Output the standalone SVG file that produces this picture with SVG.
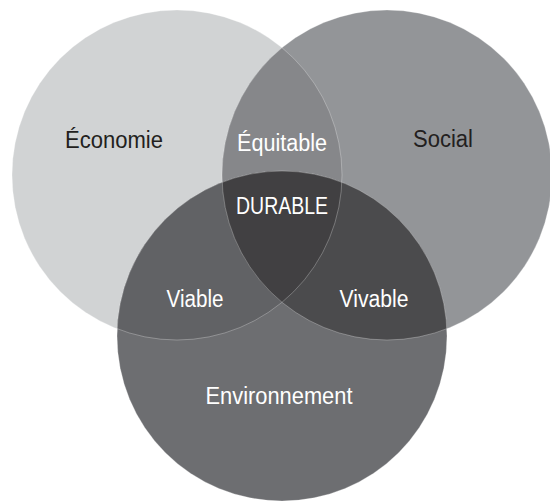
<svg xmlns="http://www.w3.org/2000/svg" width="550" height="501" viewBox="0 0 550 501">
<style>
text{font-family:"Liberation Sans",Arial,sans-serif;font-size:23px;text-anchor:middle}
.dk{fill:#231f20}
.lt{fill:#ffffff}
.edge{fill:none;stroke:#ffffff;stroke-opacity:0.35;stroke-width:0.8}
</style>
<defs>
<clipPath id="c1"><circle cx="177" cy="175" r="165"/></clipPath>
<clipPath id="c2"><circle cx="387" cy="175" r="165"/></clipPath>
</defs>
<rect width="550" height="501" fill="#ffffff"/>
<g id="node-economie">
<circle cx="177" cy="175" r="165" fill="#d1d3d4"/>
</g>
<g id="node-social">
<circle cx="387" cy="175" r="165" fill="#939598"/>
</g>
<g id="node-environnement">
<circle cx="282" cy="336" r="165" fill="#6d6e71"/>
</g>
<g id="node-equitable">
<circle cx="387" cy="175" r="165" fill="#86878a" clip-path="url(#c1)"/>
</g>
<g id="node-viable">
<circle cx="282" cy="336" r="165" fill="#616265" clip-path="url(#c1)"/>
</g>
<g id="node-vivable">
<circle cx="282" cy="336" r="165" fill="#4b4b4d" clip-path="url(#c2)"/>
</g>
<g id="node-durable">
<g clip-path="url(#c2)"><circle cx="282" cy="336" r="165" fill="#414042" clip-path="url(#c1)"/></g>
</g>
<g id="edges">
<circle class="edge" cx="177" cy="175" r="165"/>
<circle class="edge" cx="387" cy="175" r="165"/>
<circle class="edge" cx="282" cy="336" r="165"/>
</g>
<g id="labels">
<text class="dk" x="114" y="148" textLength="98" lengthAdjust="spacingAndGlyphs">Économie</text>
<text class="dk" x="443" y="147" textLength="60" lengthAdjust="spacingAndGlyphs">Social</text>
<text class="lt" x="282" y="151" textLength="90" lengthAdjust="spacingAndGlyphs">Équitable</text>
<text class="lt" x="282" y="214" textLength="92" lengthAdjust="spacingAndGlyphs">DURABLE</text>
<text class="lt" x="195" y="307" textLength="57" lengthAdjust="spacingAndGlyphs">Viable</text>
<text class="lt" x="374" y="307" textLength="69" lengthAdjust="spacingAndGlyphs">Vivable</text>
<text class="lt" x="279" y="404" textLength="147" lengthAdjust="spacingAndGlyphs">Environnement</text>
</g>
</svg>
